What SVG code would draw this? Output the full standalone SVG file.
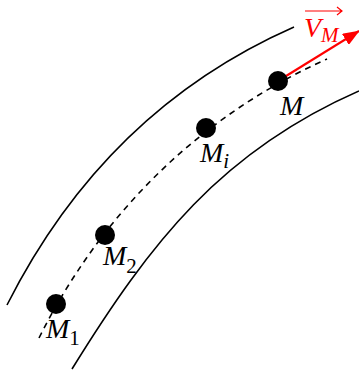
<svg xmlns="http://www.w3.org/2000/svg" width="359" height="371" viewBox="0 0 359 371">
<style>
.curve{fill:none;stroke:#000;stroke-width:1.6}
.dash{fill:none;stroke:#000;stroke-width:1.6;stroke-dasharray:6 5}
.dot{fill:#000}
.lbl{font-family:"Liberation Serif",serif;font-style:italic;font-size:28px;fill:#000}
.sub{font-size:21px}
.up{font-style:normal}
.red{fill:#ff0000}
</style>
<defs>
<marker id="ah" markerWidth="17" markerHeight="13" refX="16" refY="6.5" orient="auto" markerUnits="userSpaceOnUse">
<path d="M0,0 L17,6.5 L0,13 Z" fill="#ff0000"/>
</marker>
</defs>
<g id="bounds">
<path class="curve" d="M7,305 Q105.5,110 294,27"/>
<path class="curve" d="M72,369 C150.9,241.4 221.6,151.3 359,91"/>
</g>
<g id="connectors">
<path class="dash" d="M39,338 C101.6,212.8 199.3,116.3 327,59"/>
<line x1="278" y1="81" x2="359" y2="31" stroke="#ff0000" stroke-width="2.2" marker-end="url(#ah)"/>
</g>
<g id="M1">
<circle class="dot" cx="56" cy="304" r="10"/>
<text class="lbl" x="46" y="338">M<tspan class="sub up" dy="7">1</tspan></text>
</g>
<g id="M2">
<circle class="dot" cx="105" cy="235" r="10"/>
<text class="lbl" x="103" y="265">M<tspan class="sub up" dy="8">2</tspan></text>
</g>
<g id="Mi">
<circle class="dot" cx="206" cy="128" r="10"/>
<text class="lbl" x="200" y="162">M<tspan class="sub" dy="6">i</tspan></text>
</g>
<g id="M">
<circle class="dot" cx="278" cy="81" r="10"/>
<text class="lbl" x="280" y="115">M</text>
</g>
<g id="VM">
<text class="lbl red" x="304" y="37">V<tspan class="sub" dy="5">M</tspan></text>
<path d="M305,11 L342,11 M337,7 L342,11 L337,15" fill="none" stroke="#ff0000" stroke-width="1.2"/>
</g>
</svg>
